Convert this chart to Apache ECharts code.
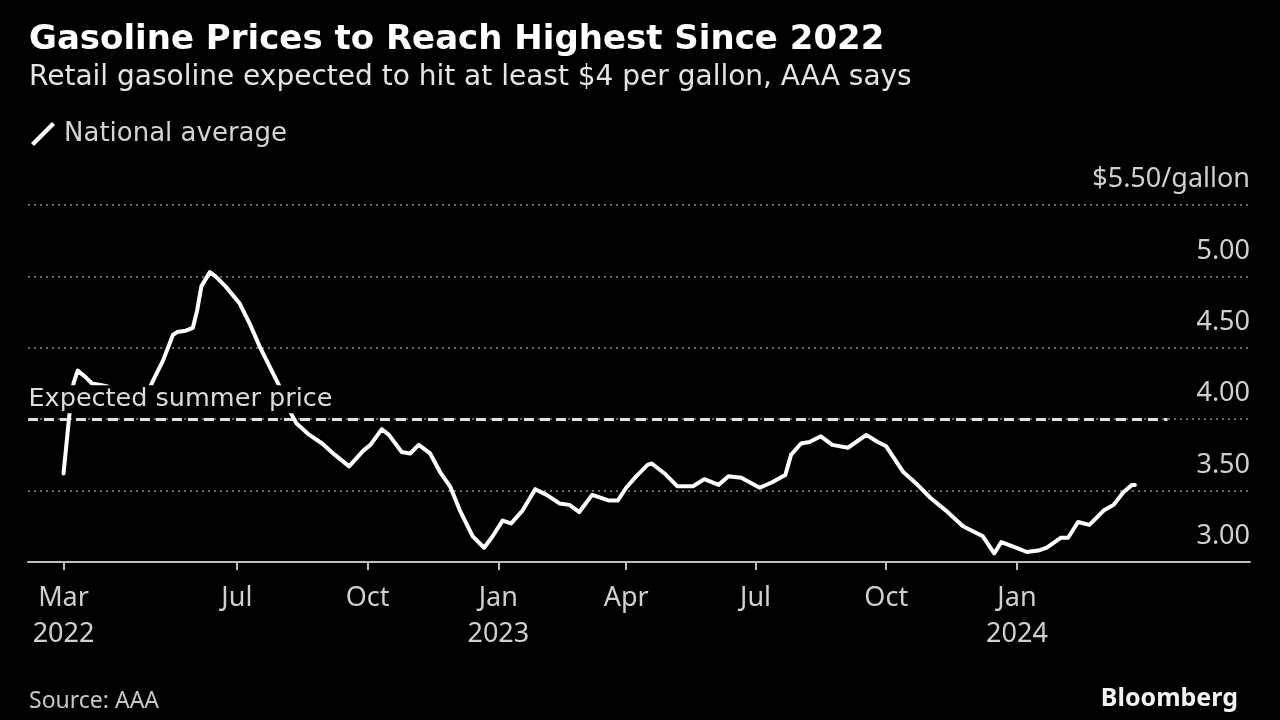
<!DOCTYPE html>
<html>
<head>
<meta charset="utf-8">
<script src="https://cdn.jsdelivr.net/npm/echarts@6/dist/echarts.min.js"></script>
<style>
html,body{margin:0;padding:0;background:#000;}
#chart{width:1280px;height:720px;}
</style>
</head>
<body>
<div id="chart"></div>
<script>
// ---- Data ----
const dates = [
  '2022-03-01','2022-03-05','2022-03-08','2022-03-11','2022-03-17','2022-03-21','2022-03-27','2022-04-01',
  '2022-04-08','2022-04-15','2022-04-22','2022-04-28','2022-05-03','2022-05-10','2022-05-17','2022-05-20',
  '2022-05-26','2022-05-31','2022-06-03','2022-06-06','2022-06-12','2022-06-16','2022-06-23','2022-07-03',
  '2022-07-10','2022-07-17','2022-07-24','2022-07-31','2022-08-07','2022-08-12','2022-08-21','2022-08-30',
  '2022-09-08','2022-09-18','2022-09-28','2022-10-03','2022-10-11','2022-10-16','2022-10-25','2022-10-31',
  '2022-11-06','2022-11-14','2022-11-21','2022-11-28','2022-12-05','2022-12-14','2022-12-22','2022-12-28',
  '2023-01-04','2023-01-10','2023-01-18','2023-01-27','2023-02-04','2023-02-13','2023-02-20','2023-02-27',
  '2023-03-08','2023-03-20','2023-03-26','2023-04-01','2023-04-08','2023-04-16','2023-04-19','2023-04-28',
  '2023-05-07','2023-05-18','2023-05-26','2023-06-05','2023-06-12','2023-06-21','2023-07-04','2023-07-13',
  '2023-07-22','2023-07-26','2023-08-02','2023-08-08','2023-08-16','2023-08-24','2023-09-04','2023-09-17',
  '2023-09-25','2023-10-01','2023-10-13','2023-10-22','2023-11-01','2023-11-12','2023-11-24','2023-12-08',
  '2023-12-16','2023-12-21','2023-12-29','2024-01-08','2024-01-16','2024-01-22','2024-02-01','2024-02-06',
  '2024-02-13','2024-02-21','2024-03-02','2024-03-09','2024-03-16','2024-03-22','2024-03-24'
];
const nationalAverage = [
  3.62,4.02,4.25,4.34,4.29,4.25,4.24,4.23,
  4.15,4.08,4.11,4.16,4.27,4.41,4.59,4.61,
  4.62,4.64,4.76,4.93,5.03,5.00,4.93,4.81,
  4.67,4.51,4.37,4.23,4.06,3.97,3.89,3.83,
  3.75,3.67,3.78,3.82,3.93,3.89,3.77,3.76,
  3.82,3.76,3.63,3.53,3.36,3.18,3.10,3.18,
  3.29,3.27,3.36,3.51,3.47,3.41,3.40,3.35,
  3.47,3.43,3.43,3.52,3.60,3.68,3.69,3.62,
  3.53,3.53,3.58,3.54,3.60,3.59,3.52,3.56,
  3.61,3.75,3.83,3.84,3.88,3.82,3.80,3.89,
  3.84,3.81,3.63,3.55,3.45,3.36,3.25,3.18,
  3.06,3.14,3.11,3.07,3.08,3.10,3.17,3.17,
  3.28,3.26,3.36,3.40,3.49,3.54,3.54
];
const expectedSummerPrice = 4.0;
const expectedLineDates = ['2022-02-04', '2024-04-16'];
const xRange = ['2022-02-04', '2024-06-13'];
const tickDates = ['2022-03-01','2022-07-01','2022-10-01','2023-01-01','2023-04-01','2023-07-01','2023-10-01','2024-01-01'];
const tickLabels = ['Mar\n2022','Jul','Oct','Jan\n2023','Apr','Jul','Oct','Jan\n2024'];
const yTicks = [3.0, 3.5, 4.0, 4.5, 5.0, 5.5];
const yTickLabels = ['3.00','3.50','4.00','4.50','5.00','$5.50/gallon'];

// ---- helpers ----
function ts(s){ const p = s.split('-').map(Number); return Date.UTC(p[0], p[1]-1, p[2]); }
const tickTs = tickDates.map(ts);
const seriesData = dates.map((d,i) => [ts(d), nationalAverage[i]]);

const FONT = 'Noto Sans';
const WIDE = 'DejaVu Sans';
const chart = echarts.init(document.getElementById('chart'), null, {renderer:'canvas'});
chart.setOption({
  backgroundColor: '#000',
  animation: false,
  textStyle: { fontFamily: FONT },
  title: [
    {
      text: 'Gasoline Prices to Reach Highest Since 2022',
      subtext: 'Retail gasoline expected to hit at least $4 per gallon, AAA says',
      left: 24, top: 15, itemGap: 1,
      textStyle: { color:'#fff', fontSize: 34, fontWeight:'bold', fontFamily: WIDE, lineHeight: 40 },
      subtextStyle: { color:'#e4e4e4', fontSize: 28, fontFamily: WIDE, lineHeight: 34 }
    },
    {
      text: 'Source: AAA', left: 24, top: 685,
      textStyle: { color:'#c8c8c8', fontSize: 23, fontWeight:'normal', fontFamily: FONT }
    },
    {
      text: 'Bloomberg', right: 37, top: 681,
      textStyle: { color:'#f2f2f2', fontSize: 25, fontWeight:'bold', fontFamily: FONT }
    }
  ],
  legend: {
    left: 26, top: 116,
    itemWidth: 24, itemHeight: 26, itemGap: 10,
    icon: 'path://M3,26 L0,23 L21,2 L24,5 Z',
    data: [{ name: 'National average', itemStyle: { color:'#fff' } }],
    textStyle: { color:'#d4d4d4', fontSize: 26, fontFamily: WIDE, padding:[0,0,0,4] }
  },
  grid: { left: 28, right: 30, top: 205, bottom: 158, containLabel: false },
  xAxis: {
    type: 'value',
    min: ts(xRange[0]), max: ts(xRange[1]),
    axisLine: { show: true, lineStyle: { color:'#bdbdbd', width: 2 } },
    axisTick: { show: true, customValues: tickTs, length: 8, lineStyle: { color:'#bdbdbd', width: 2 } },
    axisLabel: {
      show: true, customValues: tickTs, color:'#d0d0d0', fontSize: 27, lineHeight: 36, margin: 18,
      fontFamily: FONT, showMinLabel: true, showMaxLabel: true,
      formatter: function(v){ const i = tickTs.indexOf(v); return i >= 0 ? tickLabels[i] : ''; }
    },
    splitLine: { show: false }
  },
  yAxis: {
    type: 'value', position: 'right',
    min: yTicks[0], max: yTicks[yTicks.length-1], interval: 0.5,
    axisLine: { show: false }, axisTick: { show: false },
    axisLabel: {
      inside: true, margin: 0, color:'#d0d0d0', fontSize: 27, fontFamily: FONT,
      verticalAlign: 'bottom', padding: [0,0,12,0],
      formatter: function(v){ const i = yTicks.findIndex(t => Math.abs(t - v) < 1e-6); return i >= 0 ? yTickLabels[i] : ''; }
    },
    splitLine: { show: true, lineStyle: { color:'#8a8a8a', width: 1.5, type: [2,4] } }
  },
  series: [
    {
      name: 'National average',
      type: 'line',
      data: seriesData,
      showSymbol: false, symbol: 'none',
      lineStyle: { color:'#fff', width: 4, join:'round', cap:'round' },
      itemStyle: { color:'#fff' },
      z: 5,
      markLine: {
        silent: true, symbol: ['none','none'],
        lineStyle: { color:'#e0e0e0', width: 3, type: [10,6] },
        label: { show: false },
        data: [[ { coord: [ts(expectedLineDates[0]), expectedSummerPrice] },
                 { coord: [ts(expectedLineDates[1]), expectedSummerPrice] } ]]
      }
    },
    {
      name: 'Expected summer price',
      type: 'scatter',
      z: 10,
      silent: true,
      symbolSize: 1,
      itemStyle: { color: '#000', opacity: 1 },
      data: [[ts(expectedLineDates[0]), expectedSummerPrice]],
      label: {
        show: true, position: 'right', distance: 0, offset: [0, -20],
        formatter: 'Expected summer price',
        color:'#dcdcdc', opacity: 1, fontSize: 25.5, fontFamily: WIDE,
        backgroundColor: '#000', padding: [1, 3, 1, 0]
      }
    }
  ]
});
</script>
</body>
</html>
